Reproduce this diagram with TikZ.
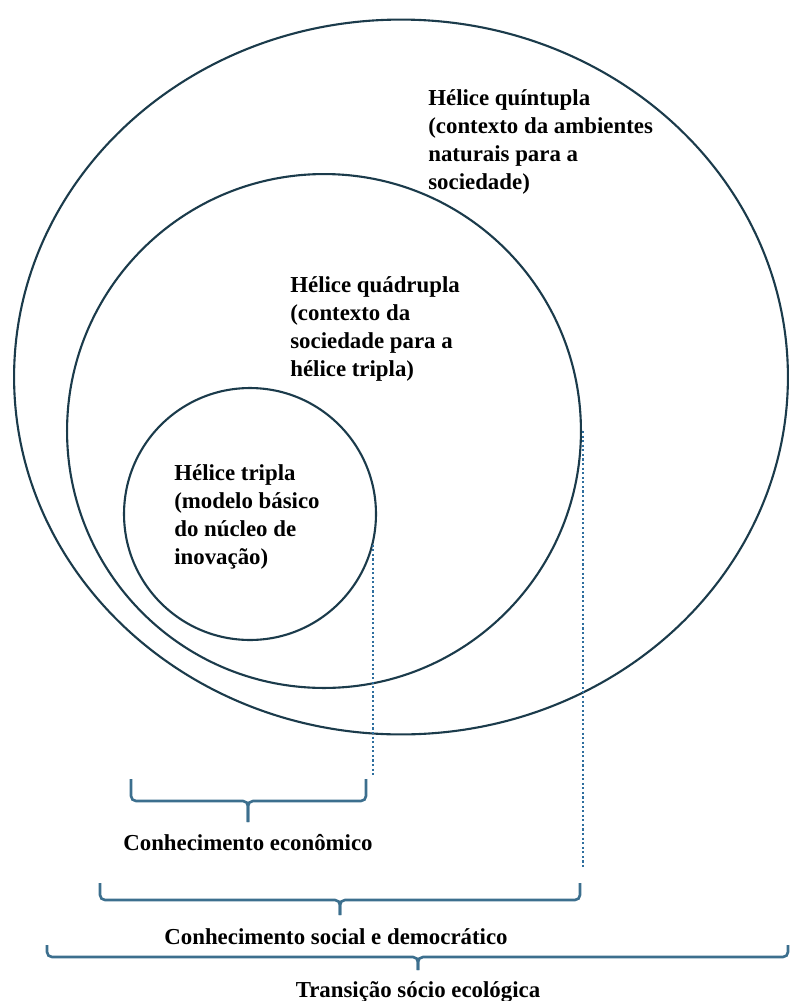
\documentclass[tikz,border=0pt]{standalone}
\usepackage{fontspec}
\setmainfont{Liberation Serif}
\usetikzlibrary{shapes.geometric}
\definecolor{ringcol}{HTML}{1B3B4B}
\definecolor{bracecol}{HTML}{3C6F8E}
\definecolor{guidecol}{HTML}{2E6E9E}
\begin{document}
\begin{tikzpicture}[
  x=0.02cm, y=-0.02cm,
  ring/.style={draw=ringcol, line width=1.2pt, inner sep=0pt},
  bracket/.style={draw=bracecol, line width=1.5pt, rounded corners=0.1cm},
  guide/.style={draw=guidecol, line width=1.4pt, dash pattern=on 1.2pt off 1.4pt},
  helixtext/.style={font=\bfseries\fontsize{13}{15.9}\selectfont, align=left, inner sep=0pt, anchor=north west},
  brtext/.style={font=\bfseries\fontsize{13}{15.9}\selectfont, inner sep=0pt}
]
\useasboundingbox (0,0) rectangle (790,1001);

% the three helices
\node[ring, ellipse, minimum width=15.48cm, minimum height=14.3cm] (quintupla) at (401,377) {};
\node[ring, circle, minimum size=10.28cm] (quadrupla) at (324,431) {};
\node[ring, circle, minimum size=5.04cm] (tripla) at (250,514) {};

\node[helixtext] (t-quint) at (428,89) {Hélice quíntupla\\(contexto da ambientes\\naturais para a\\sociedade)};
\node[helixtext] (t-quad) at (290,276) {Hélice quádrupla\\(contexto da\\sociedade para a\\hélice tripla)};
\node[helixtext] (t-trip) at (174,464) {Hélice tripla\\(modelo básico\\do núcleo de\\inovação)};

% brackets
\coordinate (econ-l) at (131,779);
\coordinate (econ-r) at (366,779);
\coordinate (econ-m) at (248,801);
\coordinate (soc-l) at (100,883);
\coordinate (soc-r) at (580,883);
\coordinate (soc-m) at (340,900);
\coordinate (eco-l) at (47,945);
\coordinate (eco-r) at (788,945);
\coordinate (eco-m) at (418,957);

\draw[bracket] (econ-l) |- (econ-m) -- ++(0,21);
\draw[bracket] (econ-r) |- (econ-m) -- ++(0,21);
\draw[bracket] (soc-l) |- (soc-m) -- ++(0,15);
\draw[bracket] (soc-r) |- (soc-m) -- ++(0,15);
\draw[bracket] (eco-l) |- (eco-m) -- ++(0,13);
\draw[bracket] (eco-r) |- (eco-m) -- ++(0,13);

% dotted guides
\coordinate (econ-mark) at (372,777);
\coordinate (soc-mark) at (583,868);
\draw[guide] (tripla.-14) -- (tripla.-14 |- econ-mark);
\draw[guide] (quadrupla.east -| soc-mark) -- (soc-mark);

\node[brtext] (b-econ) at (248,843) {Conhecimento econômico};
\node[brtext] (b-soc) at (336,937) {Conhecimento social e democrático};
\node[brtext] (b-eco) at (418,992) {Transição sócio ecológica};
\end{tikzpicture}
\end{document}
